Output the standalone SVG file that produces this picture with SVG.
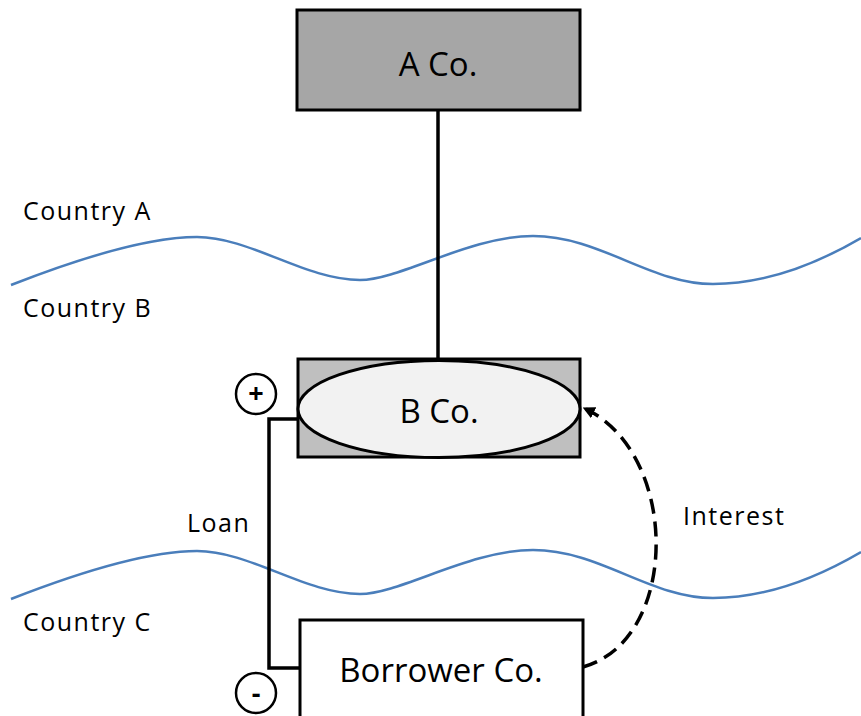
<svg xmlns="http://www.w3.org/2000/svg" width="861" height="716" viewBox="0 0 861 716">
  <style>
    .box { stroke: #000; stroke-width: 3; }
    .label { font-family: "Open Sans", "Liberation Sans", sans-serif; font-size: 25px; letter-spacing: 1.5px; fill: #000; }
    .name { font-family: "Open Sans", "Liberation Sans", sans-serif; font-size: 33px; fill: #000; text-anchor: middle; }
    .wave { fill: none; stroke: #4a7ebb; stroke-width: 2.5; }
    .link { fill: none; stroke: #000; stroke-width: 3.5; }
    .sign { fill: #fff; stroke: #000; stroke-width: 2.5; }
    .mark { font-family: "Open Sans", "Liberation Sans", sans-serif; font-size: 27px; font-weight: 700; text-anchor: middle; fill: #000; }
  </style>
  <defs>
    <marker id="arrow" viewBox="0 0 10 10" refX="7" refY="5" markerWidth="3.5" markerHeight="3.5" orient="auto">
      <path d="M0,0 L10,5 L0,10 Z" fill="#000"/>
    </marker>
  </defs>
  <rect width="861" height="716" fill="#fff"/>

  <!-- country borders -->
  <g id="borders">
    <path class="wave" d="M11,285 C80,258 150,237 197,237 C250,237 305,280 360,280 C400,280 470,236 533,236 C600,236 650,284 713,284 C770,284 820,262 861,238"/>
    <path class="wave" d="M11,599 C80,572 150,551 197,551 C250,551 305,594 360,594 C400,594 470,550 533,550 C600,550 650,598 713,598 C770,598 820,576 861,552"/>
  </g>

  <g id="country-labels">
    <text class="label" x="23" y="220">Country A</text>
    <text class="label" x="23" y="317">Country B</text>
    <text class="label" x="23" y="631">Country C</text>
  </g>

  <!-- connectors -->
  <g id="connectors">
    <line class="link" x1="438" y1="110" x2="438" y2="360"/>
    <polyline class="link" points="299,419 269,419 269,668 300,668"/>
    <path class="link" d="M583,667 C680,640 680,455 586,409" stroke-dasharray="15,8" marker-end="url(#arrow)"/>
    <text class="label" x="187" y="532">Loan</text>
    <text class="label" x="683" y="525">Interest</text>
  </g>

  <g id="a-co">
    <rect class="box" x="297" y="10" width="283" height="100" fill="#a6a6a6"/>
    <text class="name" x="438" y="76">A Co.</text>
  </g>

  <g id="b-co">
    <rect class="box" x="298" y="359" width="282" height="98" fill="#bfbfbf"/>
    <ellipse class="box" cx="439" cy="409" rx="141" ry="48.5" fill="#f2f2f2"/>
    <text class="name" x="439" y="423">B Co.</text>
  </g>

  <g id="borrower-co">
    <rect class="box" x="300" y="620" width="283" height="100" fill="#fff"/>
    <text class="name" x="441" y="682">Borrower Co.</text>
  </g>

  <g id="plus">
    <circle class="sign" cx="256" cy="394" r="20"/>
    <text class="mark" x="256" y="403">+</text>
  </g>
  <g id="minus">
    <circle class="sign" cx="256" cy="693" r="20"/>
    <text class="mark" x="256" y="703">-</text>
  </g>
</svg>
